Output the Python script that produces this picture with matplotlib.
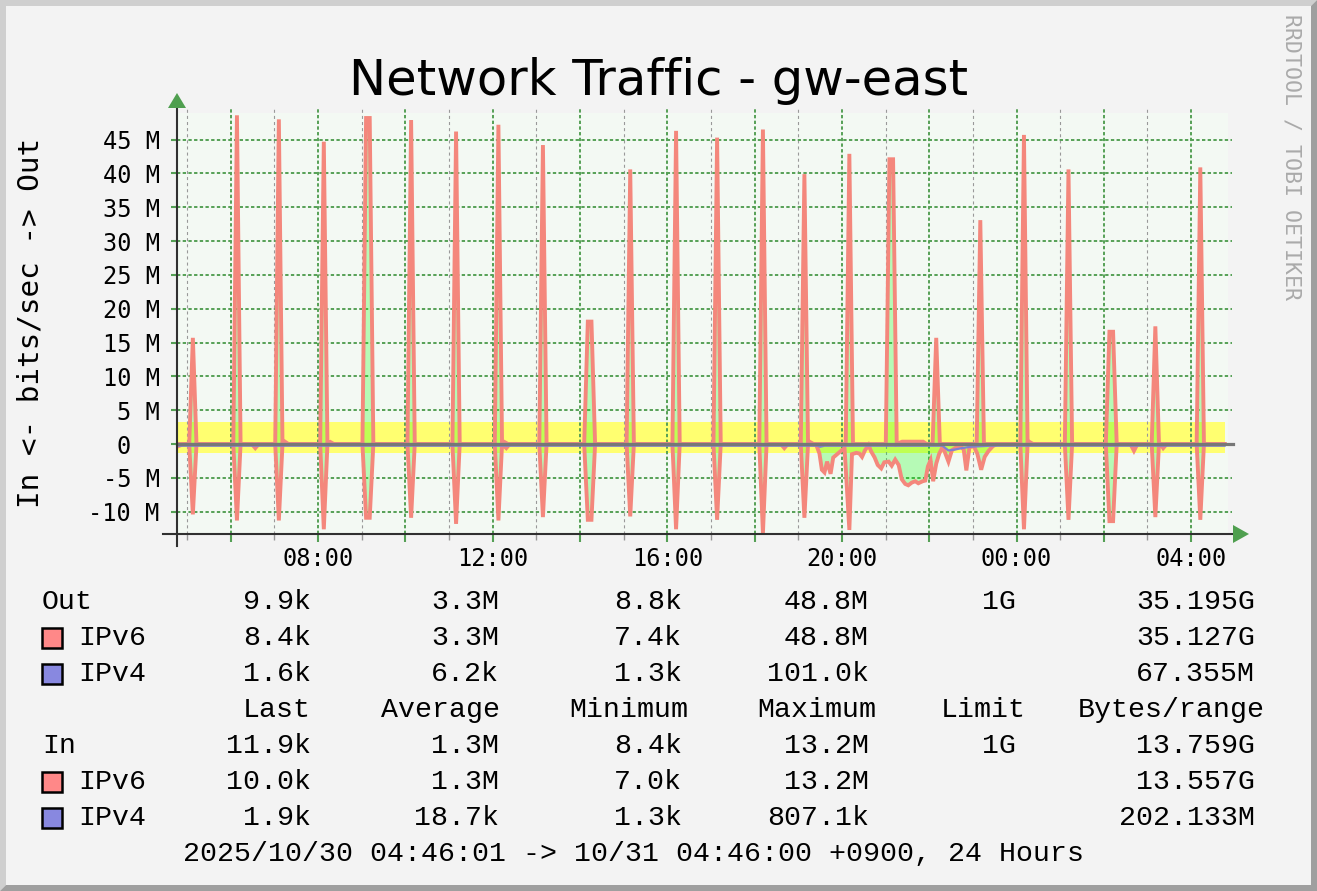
import matplotlib
matplotlib.use("Agg")
import matplotlib.pyplot as plt
from matplotlib import transforms
from matplotlib.patches import Polygon, Rectangle

W, H = 1317, 891
START = 4 + 46 / 60          # 10/30 04:46, in hours
END = START + 24
STEP = 5 / 60                # rrd step, 5 minutes

# hourly bursts: time of peak (h), Out / In peak (Mbit/s), flat = two samples at the top
spike_hour = [5.13, 6.14, 7.10, 8.13, 9.14, 10.13, 11.16, 12.13, 13.15, 14.22, 15.15, 16.20,
              17.14, 18.19, 19.14, 20.17, 21.13, 22.16, 23.17, 24.17, 25.19, 26.17, 27.18, 28.21]
spike_out = [15.7, 48.6, 48.0, 44.7, 48.2, 47.9, 46.2, 47.2, 44.2, 18.1, 40.6, 46.3,
             45.3, 46.5, 39.9, 42.9, 42.1, 15.7, 33.1, 45.7, 40.6, 16.6, 17.4, 40.9]
spike_in = [10.4, 11.3, 11.3, 12.6, 10.9, 10.9, 11.8, 11.3, 10.8, 11.2, 10.7, 12.6,
            11.2, 13.2, 10.9, 12.7, 0, 0, 0, 12.6, 11.2, 11.4, 10.8, 11.2]
spike_flat = [0, 0, 0, 0, 1, 0, 0, 0, 0, 1, 0, 0, 0, 0, 0, 0, 1, 0, 0, 0, 0, 1, 0, 0]

# IPv6 Out between the bursts
out_hour = [START, 7.24, 7.32, 8.28, 8.36, 12.27, 12.35, 19.27, 19.35,
            21.38, 21.86, 21.94, 24.30, 24.38, END]
out_val = [0.0, 0.35, 0.0, 0.3, 0.0, 0.3, 0.0, 0.3, 0.0,
           0.35, 0.35, 0.0, 0.3, 0.0, 0.0]

# IPv6 In between the bursts (negative = In)
in_hour = [START, 4.88, 6.48, 6.56, 6.64, 12.31, 12.39, 18.60, 18.68, 18.76,
           19.41, 19.485, 19.54, 19.60, 19.66, 19.74, 19.80, 19.89, 19.98, 20.06,
           20.23, 20.33, 20.40, 20.46, 20.53, 20.61, 20.67, 20.75, 20.82, 20.90,
           20.97, 21.07, 21.14, 21.22, 21.30, 21.37, 21.45, 21.52, 21.60, 21.68,
           21.75, 21.85, 21.91, 21.97, 22.03, 22.09, 22.16, 22.23, 22.31, 22.37,
           22.44, 22.52, 22.62, 22.72, 22.79, 22.85, 22.92, 23.02, 23.10, 23.19,
           23.27, 23.36, 23.46, 23.55, 26.61, 26.69, 26.77, 27.30, 27.36, 27.44, END]
in_val = [-0.4, -0.1, 0.0, -0.6, 0.0, -0.6, 0.0, 0.0, -0.6, 0.0,
          -0.1, -1.4, -3.8, -4.2, -2.6, -4.4, -2.0, -1.5, -1.0, -0.6,
          -1.5, -1.3, -1.4, -1.9, -0.9, -0.15, -1.1, -2.0, -3.1, -3.6,
          -2.7, -2.6, -3.2, -2.3, -3.1, -5.2, -5.9, -6.1, -5.7, -5.5,
          -5.8, -5.5, -5.4, -3.3, -2.4, -5.5, -2.9, -1.4, -0.4, -1.4,
          -2.6, -0.9, -0.5, -0.4, -0.8, -3.9, -0.5, -0.3, -1.4, -3.8,
          -1.9, -1.0, -0.3, 0.0, 0.0, -1.0, 0.0, 0.0, -0.6, 0.0, 0.0]

# IPv4 stays close to zero
v4_out_hour = [START, END]
v4_out_val = [0.01, 0.01]
v4_in_hour = [START, 19.45, 19.5, 19.6, 22.30, 22.37, 22.44, 22.60, 22.75, 22.95, 23.40, END]
v4_in_val = [-0.25, -0.25, -0.4, -0.25, -0.25, -0.6, -0.95, -0.8, -0.6, -0.4, -0.25, -0.25]

avg_out, avg_in = 3.3, 1.3

x_major = [6, 8, 10, 12, 14, 16, 18, 20, 22, 24, 26, 28]
x_minor = [5, 7, 9, 11, 13, 15, 17, 19, 21, 23, 25, 27]
x_labels = {8: "08:00", 12: "12:00", 16: "16:00", 20: "20:00", 24: "00:00", 28: "04:00"}
y_ticks = [-10, -5, 0, 5, 10, 15, 20, 25, 30, 35, 40, 45]
y_labels = ["-10 M", "-5 M", "0  ", "5 M", "10 M", "15 M", "20 M", "25 M",
            "30 M", "35 M", "40 M", "45 M"]

col_heads = ["Last", "Average", "Minimum", "Maximum", "Limit", "Bytes/range"]
out_names = ["Out", "IPv6", "IPv4"]
out_last = ["9.9k", "8.4k", "1.6k"]
out_avg = ["3.3M", "3.3M", "6.2k"]
out_min = ["8.8k", "7.4k", "1.3k"]
out_max = ["48.8M", "48.8M", "101.0k"]
out_limit = ["1G", "", ""]
out_bytes = ["35.195G", "35.127G", "67.355M"]
in_names = ["In", "IPv6", "IPv4"]
in_last = ["11.9k", "10.0k", "1.9k"]
in_avg = ["1.3M", "1.3M", "18.7k"]
in_min = ["8.4k", "7.0k", "1.3k"]
in_max = ["13.2M", "13.2M", "807.1k"]
in_limit = ["1G", "", ""]
in_bytes = ["13.759G", "13.557G", "202.133M"]

RED = "#f4877c"
BLUE = "#7f7fd4"
GREEN = "#55a055"
MONO = "DejaVu Sans Mono"
LEG = "Liberation Mono"


def trace(peaks, sign, extra_h, extra_v):
    pts = list(zip(extra_h, extra_v))
    for t, p, flat in zip(spike_hour, peaks, spike_flat):
        if p == 0:
            continue
        half = STEP / 2 if flat else 0
        pts += [(t - half, sign * p), (t + half, sign * p)] if flat else [(t, sign * p)]
        lo, hi = t - half - STEP, t + half + STEP
        if not any(t - half - 1.4 * STEP < h < t - half for h in extra_h):
            pts.append((lo, 0.0))
        if not any(t + half < h < t + half + 1.4 * STEP for h in extra_h):
            pts.append((hi, 0.0))
    pts.sort()
    return [a for a, _ in pts], [b for _, b in pts]


def fx(px):
    return px / W


def fy(py):
    return 1 - py / H


plt.rcParams["lines.scale_dashes"] = False
fig = plt.figure(figsize=(W / 100, H / 100), dpi=100, facecolor="#f3f3f3")

# bevelled frame
fig.add_artist(Polygon([(fx(0), fy(0)), (fx(W), fy(0)), (fx(W - 6), fy(6)), (fx(6), fy(6)),
                        (fx(6), fy(H - 6)), (fx(0), fy(H))], closed=True,
                       transform=fig.transFigure, facecolor="#cfcfcf", edgecolor="none"))
fig.add_artist(Polygon([(fx(W), fy(0)), (fx(W), fy(H)), (fx(0), fy(H)), (fx(6), fy(H - 6)),
                        (fx(W - 6), fy(H - 6)), (fx(W - 6), fy(6))], closed=True,
                       transform=fig.transFigure, facecolor="#9f9f9f", edgecolor="none"))

ax = fig.add_axes([fx(177), fy(534), (1228 - 177) / W, (534 - 113) / H])
ax.set_facecolor("#f3f9f3")
ax.set_xlim(START, START + (1228 - 177) / 43.65)
ax.set_ylim(-13.3, 48.94)
for s in ax.spines.values():
    s.set_visible(False)

bt = transforms.blended_transform_factory(ax.transData, ax.transAxes)
ht = transforms.blended_transform_factory(ax.transAxes, ax.transData)

# average band
ax.fill_between([START, END], [-avg_in, -avg_in], [avg_out, avg_out],
                color="#ffff70", lw=0, zorder=0.3)

# grid
for h in x_minor:
    ax.plot([h, h], [0, 1.012], transform=bt, color="#999999", lw=0.8,
            dashes=(2.2, 2.2), clip_on=False, zorder=0.5)
for h in x_major:
    ax.plot([h, h], [0, 1.012], transform=bt, color=GREEN, lw=1.4,
            dashes=(2.4, 1.7), clip_on=False, zorder=0.5)
for v in y_ticks:
    ax.plot([0, 1.004], [v, v], transform=ht, color=GREEN, lw=1.4,
            dashes=(2.4, 1.7), clip_on=False, zorder=0.5)

oh, ov = trace(spike_out, 1, out_hour, out_val)
ih, iv = trace(spike_in, -1, in_hour, in_val)
ax.fill_between(oh, 0, ov, color="#00ff00", alpha=0.25, lw=0, zorder=1)
ax.fill_between(ih, 0, iv, color="#00ff00", alpha=0.25, lw=0, zorder=1)
ax.plot(oh, ov, color=RED, lw=2.8, solid_joinstyle="miter", zorder=2)
ax.plot(ih, iv, color=RED, lw=2.8, solid_joinstyle="miter", zorder=2)

ax.plot(v4_out_hour, v4_out_val, color=BLUE, lw=1.6, zorder=2.3)
ax.plot(v4_in_hour, v4_in_val, color=BLUE, lw=1.6, zorder=2.3)
ax.plot([0, 1.005], [0, 0], transform=ht, color="#777777", lw=2.3, clip_on=False, zorder=2.5)

# axes lines and arrows
ax.plot([0, 0], [-0.0285, 1.031], transform=ax.transAxes, color="#303030", lw=1.5,
        clip_on=False, zorder=3)
ax.plot([-0.0133, 1.0076], [0, 0], transform=ax.transAxes, color="#303030", lw=1.5,
        clip_on=False, zorder=3)
ax.add_patch(Polygon([(0, (534 - 93) / 421), (-9 / 1051, (534 - 108) / 421),
                      (9 / 1051, (534 - 108) / 421)], closed=True, transform=ax.transAxes,
                     facecolor="#4f9f4f", edgecolor="none", clip_on=False, zorder=3))
ax.add_patch(Polygon([((1249 - 177) / 1051, 0), ((1233 - 177) / 1051, 9 / 421),
                      ((1233 - 177) / 1051, -9 / 421)], closed=True, transform=ax.transAxes,
                     facecolor="#4f9f4f", edgecolor="none", clip_on=False, zorder=3))

# ticks
ax.set_xticks(x_major)
ax.set_xticklabels([x_labels.get(h, "") for h in x_major])
ax.set_xticks(x_minor, minor=True)
ax.set_yticks(y_ticks)
ax.set_yticklabels(y_labels)
ax.tick_params(axis="x", which="major", length=6, width=1.5, color=GREEN, pad=3,
               labelsize=17)
ax.tick_params(axis="x", which="minor", length=4, width=1, color="#999999")
ax.tick_params(axis="y", length=4.5, width=1.5, color=GREEN, pad=8, labelsize=17)
for lab in ax.get_xticklabels() + ax.get_yticklabels():
    lab.set_fontfamily(MONO)

# titles
fig.text(0.5, fy(95), "Network Traffic - gw-east", ha="center", va="baseline",
         fontsize=35.7, family="DejaVu Sans")
fig.text(fx(31), fy(323), "In <- bits/sec -> Out", rotation=90, ha="center", va="center",
         fontsize=21.2, family=MONO)
fig.text(fx(1292), fy(157), "RRDTOOL / TOBI OETIKER", rotation=270, ha="center",
         va="center", fontsize=15.5, family=MONO, color="#aaaaaa")

# legend
val_right = [311, 499, 682, 869, 1016, 1255]
head_right = [311, 500, 688, 876, 1026, 1265]
box_color = [None, "#ff8888", "#8888e0"]


def legend_block(base, names, cols):
    for i, name in enumerate(names):
        y = base + 36 * i
        if box_color[i]:
            fig.add_artist(Rectangle((fx(42), fy(y + 3)), 20 / W, 20 / H,
                                     transform=fig.transFigure, facecolor=box_color[i],
                                     edgecolor="black", lw=1.8))
            fig.text(fx(78), fy(y), name, ha="left", va="baseline", fontsize=20.3, family=LEG)
        else:
            fig.text(fx(42), fy(y), name, ha="left", va="baseline", fontsize=20.3, family=LEG)
        for xr, col in zip(val_right, cols):
            fig.text(fx(xr), fy(y), col[i], ha="right", va="baseline", fontsize=20.3,
                     family=LEG)


legend_block(609, out_names, [out_last, out_avg, out_min, out_max, out_limit, out_bytes])
for xr, head in zip(head_right, col_heads):
    fig.text(fx(xr), fy(717), head, ha="right", va="baseline", fontsize=20.3, family=LEG)
legend_block(753, in_names, [in_last, in_avg, in_min, in_max, in_limit, in_bytes])
fig.text(fx(183), fy(861), "2025/10/30 04:46:01 -> 10/31 04:46:00 +0900, 24 Hours",
         ha="left", va="baseline", fontsize=20.3, family=LEG)

fig.savefig("out.png", dpi=100, facecolor=fig.get_facecolor())
